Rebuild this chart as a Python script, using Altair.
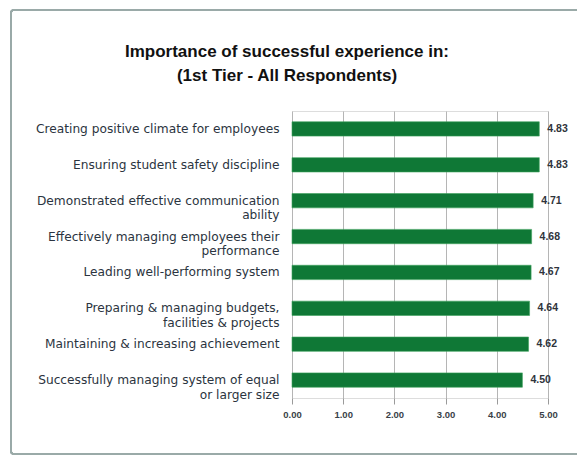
import altair as alt
import pandas as pd

categories = [
    "Creating positive climate for employees",
    "Ensuring student safety discipline",
    "Demonstrated effective communication\nability",
    "Effectively managing employees their\nperformance",
    "Leading well-performing system",
    "Preparing & managing budgets,\nfacilities & projects",
    "Maintaining & increasing achievement",
    "Successfully managing system of equal\nor larger size",
]
values = [4.83, 4.83, 4.71, 4.68, 4.67, 4.64, 4.62, 4.50]
x_ticks = [0, 1, 2, 3, 4, 5]
title_lines = ["Importance of successful experience in:", "(1st Tier - All Respondents)"]

df = pd.DataFrame({"category": categories, "value": values})

W, H = 256, 287
FONT = "Liberation Sans"
LABEL_FONT = "DejaVu Sans"

y_enc = alt.Y(
    "category:N",
    sort=None,
    title=None,
    scale=alt.Scale(paddingInner=0.6, paddingOuter=0.3),
    axis=alt.Axis(
        labelExpr="split(datum.label, '\\n')",
        labelFontSize=12.2,
        labelColor="#2b3440",
        labelFont=LABEL_FONT,
        labelPadding=13,
        labelLineHeight=14.5,
        ticks=False,
        domain=False,
        labelLimit=400,
    ),
)
x_enc = alt.X(
    "value:Q",
    title=None,
    scale=alt.Scale(domain=[0, 5], nice=False),
    axis=alt.Axis(
        values=x_ticks,
        format=".2f",
        grid=True,
        gridColor="#b5b5b5",
        gridWidth=1,
        domain=False,
        ticks=True,
        tickSize=6,
        tickColor="#9a9a9a",
        labelFontSize=9.5,
        labelFont=FONT,
        labelFontWeight="bold",
        labelColor="#3a3f48",
        labelPadding=5,
        labelFlush=False,
    ),
)

bars = alt.Chart(df).mark_bar(color="#0f7836", stroke="#3fa35e", strokeWidth=0.6).encode(
    x=x_enc, y=y_enc
)
labels = alt.Chart(df).mark_text(
    align="left", dx=8, fontSize=10.5, fontWeight="bold", font=FONT, color="#2f343c"
).encode(
    x="value:Q",
    y=alt.Y("category:N", sort=None),
    text=alt.Text("value:Q", format=".2f"),
)
frame = alt.Chart(df).mark_rect(
    fill=None, stroke="#9aaaa8", strokeWidth=1.6, cornerRadius=3
).encode(
    x=alt.value(-281), x2=alt.value(290), y=alt.value(-101), y2=alt.value(343)
)

chart = alt.layer(frame, bars, labels).properties(
    width=W,
    height=H,
    autosize=alt.AutoSizeParams(type="none"),
    padding={"left": 284, "top": 103, "right": 29, "bottom": 58},
    title=alt.Title(
        title_lines,
        anchor="middle",
        frame="group",
        dx=-133,
        offset=-76,
        fontSize=17,
        font=FONT,
        fontWeight="bold",
        color="#111111",
        lineHeight=24,
    ),
).configure_view(stroke=None).configure(background="white")

chart.save("out.html", embed_options={"renderer": "svg", "actions": False})
